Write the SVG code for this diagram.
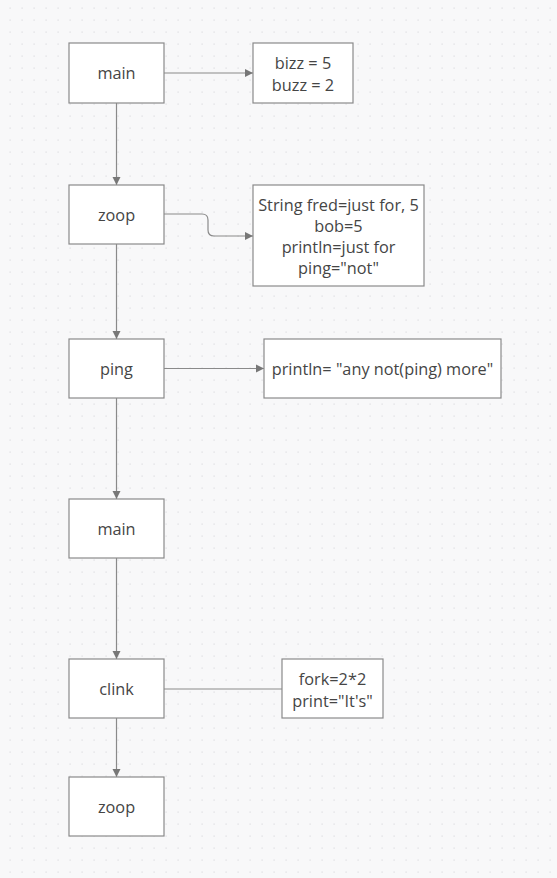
<svg xmlns="http://www.w3.org/2000/svg" width="557" height="878" viewBox="0 0 557 878">
<defs>
<pattern id="grid" x="0" y="0" width="12" height="12" patternUnits="userSpaceOnUse">
<rect x="9.5" y="7.5" width="1.2" height="1.2" fill="#dcdcdf"/>
</pattern>
<marker id="arr" markerWidth="10" markerHeight="10" refX="8" refY="5" orient="auto" markerUnits="userSpaceOnUse">
<path d="M0,1 L8,5 L0,9 Z" fill="#777"/>
</marker>
<style>
.box{fill:#fff;stroke:#8a8a8a;stroke-width:1.2}
.t{font-family:"Open Sans","Noto Sans",sans-serif;font-size:16.3px;fill:#454545;text-anchor:middle;dominant-baseline:central}
.c{fill:none;stroke:#8a8a8a;stroke-width:1.2}
</style>
</defs>
<rect width="557" height="878" fill="#f8f8f9"/>
<rect width="557" height="878" fill="url(#grid)"/>
<g id="connectors">
<path class="c" d="M164,73 H253" marker-end="url(#arr)"/>
<path class="c" d="M164,214 H202 Q208,214 208,220 V230 Q208,236 214,236 H253" marker-end="url(#arr)"/>
<path class="c" d="M164,368.5 H264" marker-end="url(#arr)"/>
<path class="c" d="M164,689 H282"/>
<path class="c" d="M116.5,103 V185" marker-end="url(#arr)"/>
<path class="c" d="M116.5,244 V339" marker-end="url(#arr)"/>
<path class="c" d="M116.5,398 V499" marker-end="url(#arr)"/>
<path class="c" d="M116.5,558 V659" marker-end="url(#arr)"/>
<path class="c" d="M116.5,718 V777" marker-end="url(#arr)"/>
</g>
<g id="main1"><rect class="box" x="69" y="43" width="95" height="60"/><text class="t" x="116.5" y="73">main</text></g>
<g id="vars1"><rect class="box" x="253" y="43" width="100" height="60"/><text class="t" x="303" y="63">bizz = 5</text><text class="t" x="303" y="85">buzz = 2</text></g>
<g id="zoop1"><rect class="box" x="69" y="185" width="95" height="59"/><text class="t" x="116.5" y="215">zoop</text></g>
<g id="vars2"><rect class="box" x="253" y="185" width="171" height="101"/><text class="t" x="338.5" y="205">String fred=just for, 5</text><text class="t" x="338.5" y="226">bob=5</text><text class="t" x="338.5" y="247">println=just for</text><text class="t" x="338.5" y="268">ping="not"</text></g>
<g id="ping"><rect class="box" x="69" y="339" width="95" height="59"/><text class="t" x="116.5" y="369">ping</text></g>
<g id="vars3"><rect class="box" x="264" y="339" width="237" height="59"/><text class="t" x="382.5" y="369">println= "any not(ping) more"</text></g>
<g id="main2"><rect class="box" x="69" y="499" width="95" height="59"/><text class="t" x="116.5" y="529">main</text></g>
<g id="clink"><rect class="box" x="69" y="659" width="95" height="59"/><text class="t" x="116.5" y="689">clink</text></g>
<g id="vars4"><rect class="box" x="282" y="659" width="101" height="59"/><text class="t" x="332.5" y="679">fork=2*2</text><text class="t" x="332.5" y="701">print="It's"</text></g>
<g id="zoop2"><rect class="box" x="69" y="777" width="95" height="59"/><text class="t" x="116.5" y="807">zoop</text></g>
</svg>
